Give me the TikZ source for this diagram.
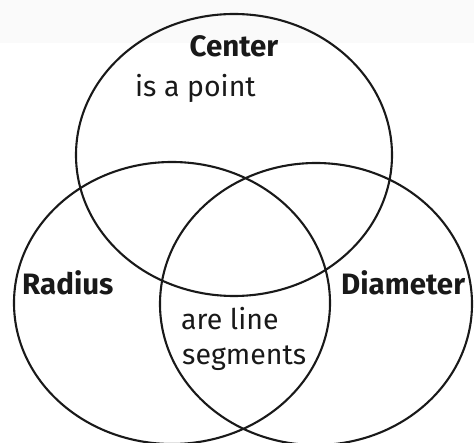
\documentclass[tikz,border=0pt]{standalone}
\usepackage{fontspec}
\setmainfont{Fira Sans}
\usetikzlibrary{shapes.geometric}
\begin{document}
\begin{tikzpicture}[x=1pt,y=-1pt,
  venn/.style={draw=black!90,line width=2.1pt,shape=ellipse,inner sep=0pt,
    minimum width=316pt,minimum height=282pt},
  lbl/.style={font=\fontsize{29.5}{32}\selectfont\bfseries,text=black!90,inner sep=0pt},
  txt/.style={font=\fontsize{28.5}{32}\selectfont,text=black!90,inner sep=0pt}]
\useasboundingbox (0,0) rectangle (474,443);
\fill[black!2] (0,0) rectangle (474,43);
\node[venn] (top) at (234,155) {};
\node[venn] (left) at (172,303) {};
\node[venn,minimum width=312pt] (right) at (316,304) {};
\node[lbl,anchor=base] (center) at (234,57) {Center};
\node[txt,anchor=base west] (point) at (135,97) {is a point};
\node[lbl,anchor=base west] (radius) at (22,295) {Radius};
\node[lbl,anchor=base west] (diam) at (341,295) {Diameter};
\node[txt,anchor=base west] (are) at (181,330) {are line};
\node[txt,anchor=base west] (seg) at (182,365) {segments};
\end{tikzpicture}
\end{document}
